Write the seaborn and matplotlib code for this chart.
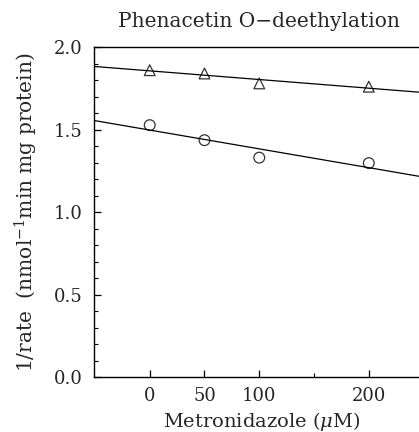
"""Phenacetin O-deethylation: 1/rate vs metronidazole (Dixon-style plot)."""
import matplotlib
matplotlib.use("Agg")
import matplotlib.pyplot as plt
import seaborn as sns
from matplotlib.ticker import MultipleLocator

# data
metronidazole = [0, 50, 100, 200]
inv_rate_triangle = [1.86, 1.84, 1.78, 1.76]
inv_rate_circle = [1.527, 1.436, 1.33, 1.297]
x_ticks = [0, 50, 100, 200]
x_minor = [150]
y_ticks = [0.0, 0.5, 1.0, 1.5, 2.0]

sns.set_theme(style="ticks")
plt.rcParams["font.family"] = ["DejaVu Serif"]
plt.rcParams["mathtext.fontset"] = "dejavuserif"

fig = plt.figure(figsize=(4.19, 4.32), dpi=100)
ax = fig.add_axes([0.224, 0.127, 0.80, 0.764])
ax.set_xlim(-51, 255)
ax.set_ylim(0, 2.0)

line_kw = dict(color="black", lw=0.9)
for ys, mk in ((inv_rate_triangle, "^"), (inv_rate_circle, "o")):
    sns.regplot(x=metronidazole, y=ys, ax=ax, ci=None, truncate=False,
                marker=mk, line_kws=line_kw,
                scatter_kws=dict(s=60, facecolors="none", edgecolors="black",
                                 linewidths=0.9))

ax.set_xticks(x_ticks)
ax.set_xticks(x_minor, minor=True)
ax.set_yticks(y_ticks)
ax.set_yticklabels([f"{v:.1f}" for v in y_ticks])
ax.yaxis.set_minor_locator(MultipleLocator(0.1))
ax.tick_params(which="both", direction="in", color="black", labelsize=13)
ax.tick_params(which="major", length=5, width=0.9)
ax.tick_params(which="minor", length=3, width=0.8)
ax.tick_params(axis="x", pad=7)
ax.tick_params(axis="y", pad=8)
for side in ("left", "bottom", "top"):
    ax.spines[side].set_color("black")
    ax.spines[side].set_linewidth(1.0)
ax.spines["right"].set_visible(False)

ax.set_xlabel(r"Metronidazole ($\mu$M)", fontsize=14, labelpad=4)
ax.set_ylabel(r"1/rate  (nmol$^{-1}$min mg protein)", fontsize=14.5, labelpad=10)
fig.text(0.617, 0.951, "Phenacetin O\u2212deethylation", ha="center", va="center",
         fontsize=14.5)

fig.savefig("out.png", dpi=100, facecolor="white")
